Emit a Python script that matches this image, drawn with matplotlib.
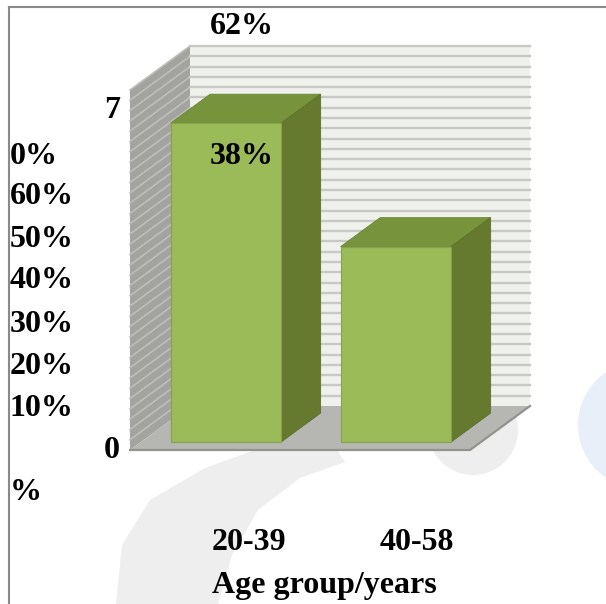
import matplotlib
matplotlib.use("Agg")
import matplotlib.pyplot as plt
from matplotlib.patches import Polygon, Ellipse

# data
age_groups = ["20-39", "40-58"]
percent = [62, 38]
bar_labels = ["62%", "38%"]
# the left labels come out scrambled in the original, keep them as they are
left_labels = ["7", "0%", "60%", "50%", "40%", "30%", "20%", "10%", "0", "%"]
grid_steps = list(range(2, 72, 2))
axis_max = 70

W, H = 606, 604
# pixel frame of the chart: floor front at y=450, 70% wall top at y=90
X0_PX, SLOT_PX = 130, 170
Y0_PX, PX_PER_PCT = 450, 360 / 70
DX = 60 / SLOT_PX          # depth shift in x (slot units)
DY = 44 / PX_PER_PCT       # depth shift in y (percent units)
D_FRONT, D_BACK = 0.18, 0.84
BAR_W = 0.65

FRONT = "#9bbb59"
TOP = "#77933c"
SIDE = "#65792f"


def proj(x, y, d):
  return (x + d * DX, y + d * DY)


def fx(px):
  return px / W


def fy(py):
  return 1 - py / H


def blob(ax_bg, cx, cy, r, color):
  ax_bg.add_patch(Ellipse((cx, cy), 2 * r, 2 * r, color=color, lw=0))


fig = plt.figure(figsize=(W / 100, H / 100), dpi=100)

# faint logo watermark behind the chart, in pixel units
bg = fig.add_axes([0, 0, 1, 1])
bg.set_xlim(0, W)
bg.set_ylim(H, 0)
bg.axis("off")
bg.set_zorder(0)
wm_gray = "#eeeeee"
blob(bg, 473, 430, 45, wm_gray)
blob(bg, 300, 412, 55, wm_gray)
band = [(116, 604), (122, 545), (150, 500), (205, 468), (255, 450), (330, 440),
        (345, 462), (300, 478), (258, 510), (232, 555), (218, 604)]
bg.add_patch(Polygon(band, closed=True, color=wm_gray, lw=0))
blob(bg, 642, 425, 64, "#e9eff8")

ax = fig.add_axes([0, 0, 1, 1])
ax.set_zorder(1)
ax.patch.set_visible(False)
ax.set_xlim(-X0_PX / SLOT_PX, (W - X0_PX) / SLOT_PX)
ax.set_ylim(-(H - Y0_PX) / PX_PER_PCT, Y0_PX / PX_PER_PCT)
ax.axis("off")

n = len(age_groups)

# back wall
back = [proj(0, 0, 1), proj(n, 0, 1), proj(n, axis_max, 1), proj(0, axis_max, 1)]
ax.add_patch(Polygon(back, closed=True, facecolor="#eff1ec", edgecolor="none", zorder=1))
# left wall
left = [proj(0, 0, 0), proj(0, 0, 1), proj(0, axis_max, 1), proj(0, axis_max, 0)]
ax.add_patch(Polygon(left, closed=True, facecolor="#a3a49f", edgecolor="none", zorder=1))

for g in grid_steps:
  xs, ys = zip(proj(0, g, 0), proj(0, g, 1), proj(n, g, 1))
  ax.plot(xs[:2], ys[:2], color="#bebfba", lw=1.2, zorder=2)
  ax.plot(xs[1:], ys[1:], color="#c8c9c5", lw=1.7, zorder=2)

# floor
floor = [proj(0, 0, 0), proj(n, 0, 0), proj(n, 0, 1), proj(0, 0, 1)]
ax.add_patch(Polygon(floor, closed=True, facecolor="#b6b7b2", edgecolor="none", zorder=3))
fe = [proj(0, 0, 0), proj(n, 0, 0), proj(n, 0, 1)]
ax.plot([p[0] for p in fe], [p[1] for p in fe], color="#92938f", lw=1.6, zorder=3)

# bars: front face with ax.bar, top and side as polygons
centers = [i + 0.5 for i in range(n)]
front_x = [c + D_FRONT * DX for c in centers]
ax.bar(front_x, percent, width=BAR_W, bottom=D_FRONT * DY, color=FRONT,
       edgecolor="#87a34a", linewidth=0.8, zorder=5)
for c, h in zip(centers, percent):
  x0, x1 = c - BAR_W / 2, c + BAR_W / 2
  top = [proj(x0, h, D_FRONT), proj(x1, h, D_FRONT), proj(x1, h, D_BACK), proj(x0, h, D_BACK)]
  side = [proj(x1, 0, D_FRONT), proj(x1, h, D_FRONT), proj(x1, h, D_BACK), proj(x1, 0, D_BACK)]
  ax.add_patch(Polygon(top, closed=True, facecolor=TOP, edgecolor="#6d8836", lw=0.6, zorder=4))
  ax.add_patch(Polygon(side, closed=True, facecolor=SIDE, edgecolor="#5d702c", lw=0.6, zorder=4))

# text, placed where the original put it
font = dict(family="Liberation Serif", weight="bold", size=23, color="black")
fig.text(fx(242), fy(27), bar_labels[0], ha="center", va="center", **font)
fig.text(fx(242), fy(156), bar_labels[1], ha="center", va="center", **font)

left_pos = [(112, 111, "center"), (10, 156, "left"), (10, 196, "left"), (10, 239, "left"),
            (10, 281, "left"), (10, 324, "left"), (10, 366, "left"), (10, 408, "left"),
            (112, 451, "center"), (10, 493, "left")]
for lab, (px, py, ha) in zip(left_labels, left_pos):
  fig.text(fx(px), fy(py), lab, ha=ha, va="center", **font)

for lab, px in zip(age_groups, [249, 417]):
  fig.text(fx(px), fy(542), lab, ha="center", va="center", **font)
fig.text(fx(324), fy(586), "Age group/years", ha="center", va="center", **font)

# frame of the original figure box
fig.add_artist(plt.Line2D([fx(9), fx(9)], [fy(7), 0], color="#8a8a8a", lw=1.5,
                          transform=fig.transFigure))
fig.add_artist(plt.Line2D([fx(9), 1], [fy(7), fy(7)], color="#8a8a8a", lw=1.5,
                          transform=fig.transFigure))

fig.savefig("out.png", dpi=100)
